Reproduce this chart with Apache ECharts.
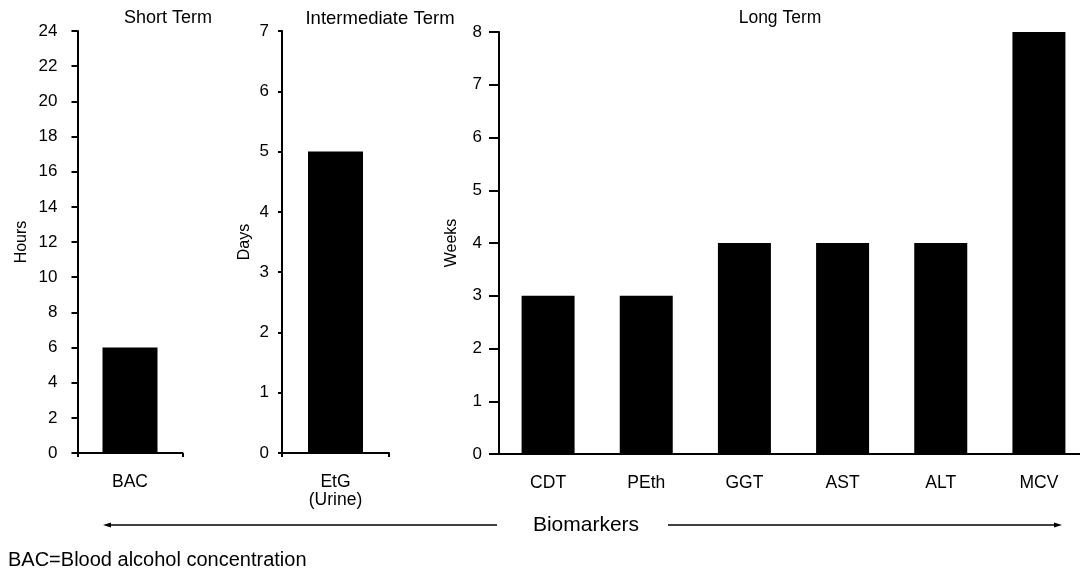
<!DOCTYPE html>
<html>
<head>
<meta charset="utf-8">
<script src="https://cdn.jsdelivr.net/npm/echarts@6/dist/echarts.min.js"></script>
<style>
html,body{margin:0;padding:0;background:#fff;}
#chart{width:1080px;height:575px;}
</style>
</head>
<body>
<div id="chart"></div>
<script>
// ---- data ----
const shortCategories = ['BAC'];
const shortValues = [6];
const midCategories = ['EtG\n(Urine)'];
const midValues = [5];
const longCategories = ['CDT', 'PEth', 'GGT', 'AST', 'ALT', 'MCV'];
const longValues = [3, 3, 4, 4, 4, 8];
const panelTitles = ['Short Term', 'Intermediate Term', 'Long Term'];
const yNames = ['Hours', 'Days', 'Weeks'];
const yMax = [24, 7, 8];
const yInterval = [2, 1, 1];

const FONT = "'Liberation Sans', Arial, sans-serif";
const chart = echarts.init(document.getElementById('chart'));

const grids = [
  {left: 77.5, top: 31, width: 105, height: 422, outerBoundsMode: 'none', containLabel: false},
  {left: 282, top: 31, width: 107, height: 422, outerBoundsMode: 'none', containLabel: false},
  {left: 499, top: 32, width: 589, height: 422, outerBoundsMode: 'none', containLabel: false}
];
const tickLen = [6, 4, 10];
const nameGaps = [48, 29, 39];
const labelMargins = [20, 13, 17];
const cats = [shortCategories, midCategories, longCategories];
const vals = [shortValues, midValues, longValues];
const barWidths = [55, 55, 53];

const xAxis = cats.map((c, i) => ({
  type: 'category', gridIndex: i, data: c,
  axisLine: {lineStyle: {color: '#000', width: 2}},
  axisTick: {show: i < 2, length: 4, interval: 0, lineStyle: {color: '#000', width: 2}},
  axisLabel: {color: '#000', fontSize: 17.5, fontFamily: FONT, margin: 20, lineHeight: 18, interval: 0}
}));
const yAxis = yNames.map((n, i) => ({
  type: 'value', gridIndex: i, min: 0, max: yMax[i], interval: yInterval[i],
  name: n, nameLocation: 'middle', nameGap: nameGaps[i],
  nameTextStyle: {color: '#000', fontSize: 16, fontFamily: FONT},
  axisLine: {show: true, lineStyle: {color: '#000', width: 2}},
  axisTick: {show: true, length: tickLen[i], lineStyle: {color: '#000', width: 2}},
  axisLabel: {color: '#000', fontSize: 17, fontFamily: FONT, margin: labelMargins[i]},
  splitLine: {show: false}
}));
const series = vals.map((v, i) => ({
  type: 'bar', xAxisIndex: i, yAxisIndex: i, data: v,
  barWidth: barWidths[i], itemStyle: {color: '#000'}, silent: true
}));

const titlePos = [163, 375, 775];
const titleSizes = [18, 18.5, 17.5];

chart.setOption({
  animation: false,
  backgroundColor: '#fff',
  title: panelTitles.map((t, i) => ({
    text: t, left: titlePos[i], top: 4, textAlign: 'center',
    textStyle: {color: '#000', fontSize: titleSizes[i], fontWeight: 'normal', fontFamily: FONT}
  })),
  grid: grids,
  xAxis: xAxis,
  yAxis: yAxis,
  series: series,
  graphic: [
    {type: 'line', shape: {x1: 108, y1: 525, x2: 497, y2: 525}, style: {stroke: '#000', lineWidth: 1.5}},
    {type: 'polygon', shape: {points: [[103, 525], [111, 522.5], [111, 527.5]]}, style: {fill: '#000'}},
    {type: 'line', shape: {x1: 668, y1: 525, x2: 1056, y2: 525}, style: {stroke: '#000', lineWidth: 1.5}},
    {type: 'polygon', shape: {points: [[1062, 525], [1054, 522.5], [1054, 527.5]]}, style: {fill: '#000'}},
    {type: 'text', x: 586, y: 525, style: {text: 'Biomarkers', fill: '#000', fontSize: 21, fontFamily: FONT, align: 'center', verticalAlign: 'middle'}},
    {type: 'text', x: 8, y: 560, style: {text: 'BAC=Blood alcohol concentration', fill: '#000', fontSize: 20, fontFamily: FONT, align: 'left', verticalAlign: 'middle'}}
  ]
});
</script>
</body>
</html>
